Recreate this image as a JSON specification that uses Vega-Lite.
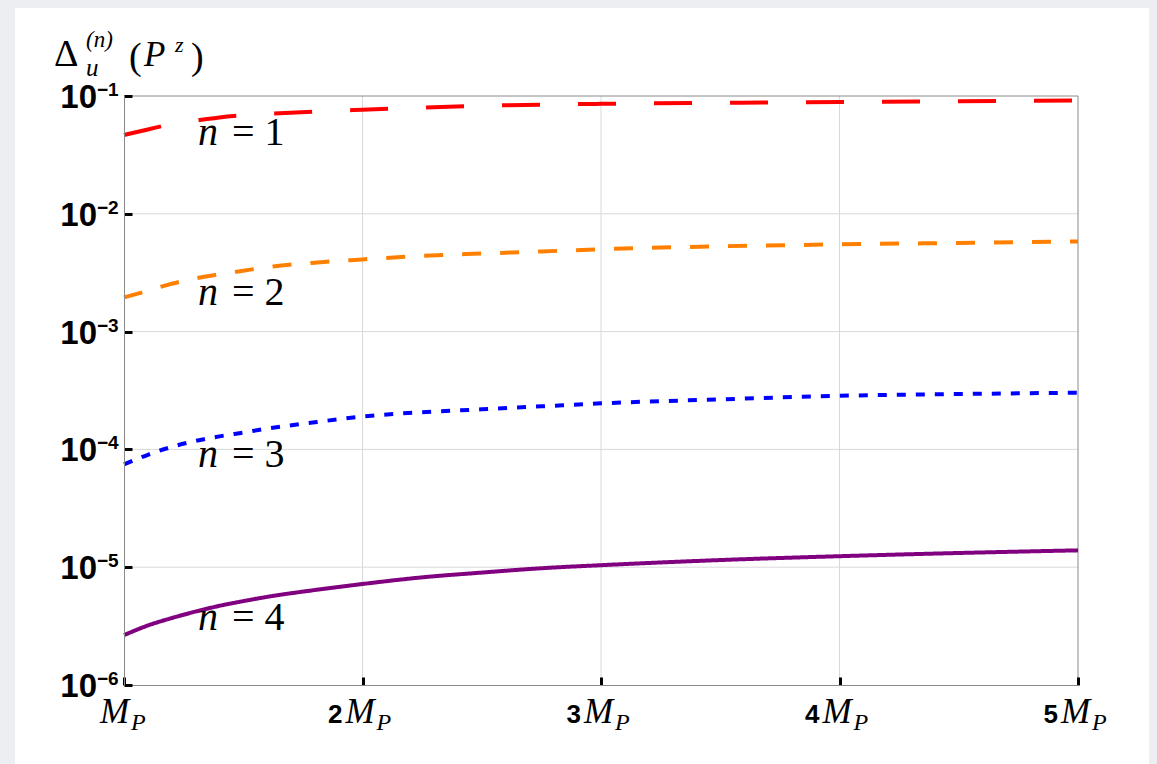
{
  "$schema": "https://vega.github.io/schema/vega-lite/v6.json",
  "width": 954,
  "height": 589,
  "autosize": {"type": "none"},
  "padding": {"left": 124, "top": 96, "right": 79, "bottom": 79},
  "background": "#eceef1",
  "config": {
    "view": {"stroke": null}
  },
  "datasets": {
    "curves": [
      {"x": 1, "y": 0.0467, "n": "1"}, {"x": 1.1, "y": 0.052, "n": "1"}, {"x": 1.2, "y": 0.0578, "n": "1"}, {"x": 1.3, "y": 0.0618, "n": "1"}, {"x": 1.4, "y": 0.0658, "n": "1"}, {"x": 1.5, "y": 0.0686, "n": "1"}, {"x": 1.6, "y": 0.0706, "n": "1"}, {"x": 1.8, "y": 0.0738, "n": "1"}, {"x": 2, "y": 0.0765, "n": "1"}, {"x": 2.25, "y": 0.0797, "n": "1"}, {"x": 2.5, "y": 0.0825, "n": "1"}, {"x": 2.75, "y": 0.0845, "n": "1"}, {"x": 3, "y": 0.0858, "n": "1"}, {"x": 3.5, "y": 0.0876, "n": "1"}, {"x": 4, "y": 0.089, "n": "1"}, {"x": 4.5, "y": 0.0904, "n": "1"}, {"x": 5, "y": 0.0915, "n": "1"},
      {"x": 1, "y": 0.00195, "n": "2"}, {"x": 1.1, "y": 0.00222, "n": "2"}, {"x": 1.2, "y": 0.00255, "n": "2"}, {"x": 1.3, "y": 0.00283, "n": "2"}, {"x": 1.4, "y": 0.00307, "n": "2"}, {"x": 1.5, "y": 0.00329, "n": "2"}, {"x": 1.6, "y": 0.00352, "n": "2"}, {"x": 1.8, "y": 0.00385, "n": "2"}, {"x": 2, "y": 0.0041, "n": "2"}, {"x": 2.25, "y": 0.0044, "n": "2"}, {"x": 2.5, "y": 0.0046, "n": "2"}, {"x": 2.75, "y": 0.00479, "n": "2"}, {"x": 3, "y": 0.005, "n": "2"}, {"x": 3.5, "y": 0.0053, "n": "2"}, {"x": 4, "y": 0.0055, "n": "2"}, {"x": 4.5, "y": 0.00566, "n": "2"}, {"x": 5, "y": 0.00582, "n": "2"},
      {"x": 1, "y": 0.0000746, "n": "3"}, {"x": 1.1, "y": 0.00009, "n": "3"}, {"x": 1.2, "y": 0.000105, "n": "3"}, {"x": 1.3, "y": 0.000118, "n": "3"}, {"x": 1.4, "y": 0.000129, "n": "3"}, {"x": 1.5, "y": 0.000139, "n": "3"}, {"x": 1.6, "y": 0.00015, "n": "3"}, {"x": 1.8, "y": 0.00017, "n": "3"}, {"x": 2, "y": 0.00019, "n": "3"}, {"x": 2.25, "y": 0.000207, "n": "3"}, {"x": 2.5, "y": 0.000219, "n": "3"}, {"x": 2.75, "y": 0.000232, "n": "3"}, {"x": 3, "y": 0.000246, "n": "3"}, {"x": 3.5, "y": 0.000266, "n": "3"}, {"x": 4, "y": 0.000285, "n": "3"}, {"x": 4.5, "y": 0.000295, "n": "3"}, {"x": 5, "y": 0.000303, "n": "3"},
      {"x": 1, "y": 0.00000265, "n": "4"}, {"x": 1.1, "y": 0.0000032, "n": "4"}, {"x": 1.2, "y": 0.0000037, "n": "4"}, {"x": 1.3, "y": 0.0000042, "n": "4"}, {"x": 1.4, "y": 0.0000047, "n": "4"}, {"x": 1.5, "y": 0.00000515, "n": "4"}, {"x": 1.6, "y": 0.0000056, "n": "4"}, {"x": 1.8, "y": 0.0000064, "n": "4"}, {"x": 2, "y": 0.0000072, "n": "4"}, {"x": 2.25, "y": 0.0000082, "n": "4"}, {"x": 2.5, "y": 0.000009, "n": "4"}, {"x": 2.75, "y": 0.0000098, "n": "4"}, {"x": 3, "y": 0.0000104, "n": "4"}, {"x": 3.5, "y": 0.0000115, "n": "4"}, {"x": 4, "y": 0.0000124, "n": "4"}, {"x": 4.5, "y": 0.0000132, "n": "4"}, {"x": 5, "y": 0.0000139, "n": "4"}
    ],
    "xgrid": [{"x": 2}, {"x": 3}, {"x": 4}],
    "ygrid": [{"v": 0.01}, {"v": 0.001}, {"v": 0.0001}, {"v": 0.00001}],
    "ylab": [
      {"v": 0.1, "e": "−1"}, {"v": 0.01, "e": "−2"}, {"v": 0.001, "e": "−3"},
      {"v": 0.0001, "e": "−4"}, {"v": 0.00001, "e": "−5"}, {"v": 0.000001, "e": "−6"}
    ],
    "xlab": [{"x": 1, "num": ""}, {"x": 2, "num": "2"}, {"x": 3, "num": "3"}, {"x": 4, "num": "4"}, {"x": 5, "num": "5"}],
    "nlab": [
      {"x": 1.31, "y": 0.0384, "t": "= 1"},
      {"x": 1.31, "y": 0.00169, "t": "= 2"},
      {"x": 1.31, "y": 0.0000704, "t": "= 3"},
      {"x": 1.31, "y": 0.00000292, "t": "= 4"}
    ],
    "one": [{"k": 0}]
  },
  "layer": [
    {
      "data": {"name": "one"},
      "mark": {"type": "rect", "fill": "#ffffff", "clip": false},
      "encoding": {
        "x": {"datum": 0.543, "type": "quantitative", "scale": {"domain": [1, 5], "nice": false, "zero": false}},
        "x2": {"datum": 5.298},
        "y": {"datum": 0.558, "type": "quantitative", "scale": {"type": "log", "domain": [0.000001, 0.1], "nice": false}},
        "y2": {"datum": 0.000000214}
      }
    },
    {
      "data": {"name": "xgrid"},
      "mark": {"type": "rule", "color": "#d9d9d9", "strokeWidth": 1},
      "encoding": {"x": {"field": "x", "type": "quantitative"}}
    },
    {
      "data": {"name": "ygrid"},
      "mark": {"type": "rule", "color": "#d9d9d9", "strokeWidth": 1},
      "encoding": {"y": {"field": "v", "type": "quantitative"}}
    },
    {
      "data": {"name": "one"},
      "mark": {"type": "rule", "color": "#8a8a8a", "strokeWidth": 1},
      "encoding": {"y": {"datum": 0.1, "type": "quantitative"}}
    },
    {
      "data": {"name": "one"},
      "mark": {"type": "rule", "color": "#8a8a8a", "strokeWidth": 1},
      "encoding": {"x": {"datum": 5, "type": "quantitative"}}
    },
    {
      "data": {"name": "curves"},
      "mark": {"type": "line", "strokeWidth": 4, "interpolate": "monotone"},
      "encoding": {
        "x": {"field": "x", "type": "quantitative",
          "axis": {"values": [1, 2, 3, 4, 5], "labels": false, "title": null, "grid": false, "domainColor": "#8a8a8a", "domainWidth": 1, "tickColor": "#000000", "tickWidth": 3, "tickSize": -8, "zindex": 1}},
        "y": {"field": "y", "type": "quantitative",
          "axis": {"values": [0.1, 0.01, 0.001, 0.0001, 0.00001, 0.000001], "labels": false, "title": null, "grid": false, "domainColor": "#8a8a8a", "domainWidth": 1, "tickColor": "#000000", "tickWidth": 3, "tickSize": -8, "zindex": 1}},
        "color": {"field": "n", "type": "nominal", "scale": {"domain": ["1", "2", "3", "4"], "range": ["#ff0000", "#ff8000", "#0000ff", "#800080"]}, "legend": null},
        "strokeDash": {"field": "n", "type": "nominal", "scale": {"domain": ["1", "2", "3", "4"], "range": [[38, 38], [19, 19], [9, 10], [1, 0]]}, "legend": null}
      }
    },
    {
      "data": {"name": "nlab"},
      "mark": {"type": "text", "text": "n", "font": "Liberation Serif", "fontStyle": "italic", "fontSize": 40, "align": "left", "baseline": "alphabetic", "color": "#000000"},
      "encoding": {"x": {"field": "x", "type": "quantitative"}, "y": {"field": "y", "type": "quantitative"}}
    },
    {
      "data": {"name": "nlab"},
      "mark": {"type": "text", "font": "Liberation Serif", "fontSize": 40, "align": "left", "baseline": "alphabetic", "dx": 34, "color": "#000000"},
      "encoding": {"x": {"field": "x", "type": "quantitative"}, "y": {"field": "y", "type": "quantitative"}, "text": {"field": "t"}}
    },
    {
      "data": {"name": "ylab"},
      "mark": {"type": "text", "text": "10", "font": "Liberation Sans", "fontWeight": "bold", "fontSize": 33, "align": "right", "baseline": "alphabetic", "dx": -27, "dy": 12, "color": "#000000"},
      "encoding": {"x": {"datum": 1, "type": "quantitative"}, "y": {"field": "v", "type": "quantitative"}}
    },
    {
      "data": {"name": "ylab"},
      "mark": {"type": "text", "font": "Liberation Sans", "fontWeight": "bold", "fontSize": 19, "align": "left", "baseline": "alphabetic", "dx": -27, "dy": 0, "color": "#000000"},
      "encoding": {"x": {"datum": 1, "type": "quantitative"}, "y": {"field": "v", "type": "quantitative"}, "text": {"field": "e"}}
    },
    {
      "data": {"name": "xlab"},
      "transform": [{"filter": "datum.x > 1"}],
      "mark": {"type": "text", "font": "Liberation Sans", "fontWeight": "bold", "fontSize": 26, "align": "right", "baseline": "alphabetic", "dx": -20, "dy": 38, "color": "#000000"},
      "encoding": {"x": {"field": "x", "type": "quantitative"}, "y": {"datum": 0.000001, "type": "quantitative"}, "text": {"field": "num"}}
    },
    {
      "data": {"name": "xlab"},
      "transform": [{"filter": "datum.x > 1"}],
      "mark": {"type": "text", "text": "M", "font": "Liberation Serif", "fontStyle": "italic", "fontSize": 35, "align": "left", "baseline": "alphabetic", "dx": -17, "dy": 38, "color": "#000000"},
      "encoding": {"x": {"field": "x", "type": "quantitative"}, "y": {"datum": 0.000001, "type": "quantitative"}}
    },
    {
      "data": {"name": "xlab"},
      "transform": [{"filter": "datum.x > 1"}],
      "mark": {"type": "text", "text": "P", "font": "Liberation Serif", "fontStyle": "italic", "fontSize": 24, "align": "left", "baseline": "alphabetic", "dx": 14, "dy": 45, "color": "#000000"},
      "encoding": {"x": {"field": "x", "type": "quantitative"}, "y": {"datum": 0.000001, "type": "quantitative"}}
    },
    {
      "data": {"name": "xlab"},
      "transform": [{"filter": "datum.x == 1"}],
      "mark": {"type": "text", "text": "M", "font": "Liberation Serif", "fontStyle": "italic", "fontSize": 35, "align": "left", "baseline": "alphabetic", "dx": -24, "dy": 38, "color": "#000000"},
      "encoding": {"x": {"field": "x", "type": "quantitative"}, "y": {"datum": 0.000001, "type": "quantitative"}}
    },
    {
      "data": {"name": "xlab"},
      "transform": [{"filter": "datum.x == 1"}],
      "mark": {"type": "text", "text": "P", "font": "Liberation Serif", "fontStyle": "italic", "fontSize": 24, "align": "left", "baseline": "alphabetic", "dx": 7, "dy": 45, "color": "#000000"},
      "encoding": {"x": {"field": "x", "type": "quantitative"}, "y": {"datum": 0.000001, "type": "quantitative"}}
    },
    {
      "data": {"name": "one"},
      "mark": {"type": "text", "text": "Δ", "font": "Liberation Serif", "fontSize": 38, "align": "left", "baseline": "alphabetic", "dx": -70, "dy": -30, "color": "#000000"},
      "encoding": {"x": {"datum": 1, "type": "quantitative"}, "y": {"datum": 0.1, "type": "quantitative"}}
    },
    {
      "data": {"name": "one"},
      "mark": {"type": "text", "text": "(n)", "font": "Liberation Serif", "fontStyle": "italic", "fontSize": 23, "align": "left", "baseline": "alphabetic", "dx": -38, "dy": -49, "color": "#000000"},
      "encoding": {"x": {"datum": 1, "type": "quantitative"}, "y": {"datum": 0.1, "type": "quantitative"}}
    },
    {
      "data": {"name": "one"},
      "mark": {"type": "text", "text": "u", "font": "Liberation Serif", "fontStyle": "italic", "fontSize": 25, "align": "left", "baseline": "alphabetic", "dx": -38, "dy": -20, "color": "#000000"},
      "encoding": {"x": {"datum": 1, "type": "quantitative"}, "y": {"datum": 0.1, "type": "quantitative"}}
    },
    {
      "data": {"name": "one"},
      "mark": {"type": "text", "text": "(", "font": "Liberation Serif", "fontSize": 38, "align": "left", "baseline": "alphabetic", "dx": 5, "dy": -27, "color": "#000000"},
      "encoding": {"x": {"datum": 1, "type": "quantitative"}, "y": {"datum": 0.1, "type": "quantitative"}}
    },
    {
      "data": {"name": "one"},
      "mark": {"type": "text", "text": "P", "font": "Liberation Serif", "fontStyle": "italic", "fontSize": 35, "align": "left", "baseline": "alphabetic", "dx": 20, "dy": -30, "color": "#000000"},
      "encoding": {"x": {"datum": 1, "type": "quantitative"}, "y": {"datum": 0.1, "type": "quantitative"}}
    },
    {
      "data": {"name": "one"},
      "mark": {"type": "text", "text": "z", "font": "Liberation Serif", "fontStyle": "italic", "fontSize": 22, "align": "left", "baseline": "alphabetic", "dx": 51, "dy": -44, "color": "#000000"},
      "encoding": {"x": {"datum": 1, "type": "quantitative"}, "y": {"datum": 0.1, "type": "quantitative"}}
    },
    {
      "data": {"name": "one"},
      "mark": {"type": "text", "text": ")", "font": "Liberation Serif", "fontSize": 38, "align": "left", "baseline": "alphabetic", "dx": 67, "dy": -27, "color": "#000000"},
      "encoding": {"x": {"datum": 1, "type": "quantitative"}, "y": {"datum": 0.1, "type": "quantitative"}}
    }
  ]
}
